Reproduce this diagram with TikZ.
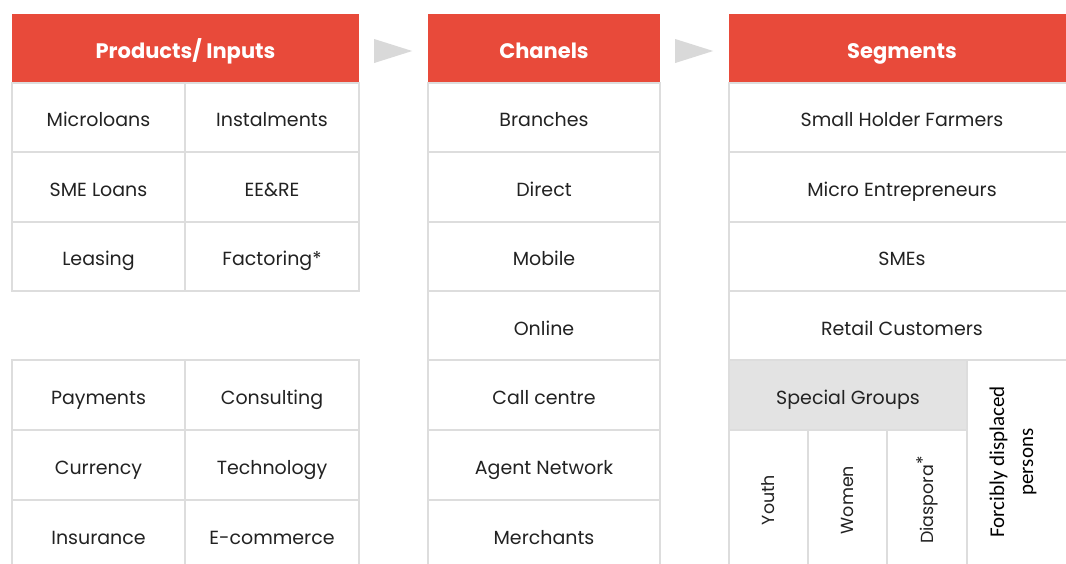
\documentclass[tikz,border=0pt]{standalone}
\usepackage{fontspec}
\usetikzlibrary{calc}
\setmainfont{Poppins}
\newfontfamily\notefont{Carlito}
\definecolor{headred}{HTML}{E84A3A}
\definecolor{gridgray}{HTML}{DDDDDD}
\definecolor{groupgray}{HTML}{E3E3E3}
\definecolor{arrowgray}{HTML}{D9D9D9}
\definecolor{ink}{HTML}{222222}
\begin{document}
\begin{tikzpicture}[x=1pt,y=-1pt,
  cell/.style={draw=gridgray,line width=2.5pt,fill=white,rectangle,inner sep=0pt,
    text=ink,font=\fontsize{19}{22}\selectfont,text height=18.5pt,text depth=0pt},
  head/.style={fill=headred,rectangle,inner sep=0pt,text=white,
    font=\fontsize{21}{24}\selectfont\bfseries,text height=20pt,text depth=0pt},
  vert/.style={rotate=90,text=ink,font=\fontsize{17.5}{20}\selectfont},
  flow/.style={fill=arrowgray}]
\useasboundingbox (0,0) rectangle (1066,563);
\begin{scope}
\clip (0,0) rectangle (1066,563);
% products / inputs
\node[head,minimum width=347pt,minimum height=69pt] (h1) at (185.5,48.5) {Products/ Inputs};
\node[cell,minimum width=173pt,minimum height=69pt] (p1) at (98.5,117.5) {Microloans};
\node[cell,minimum width=174pt,minimum height=69pt] (p2) at (272,117.5) {Instalments};
\node[cell,minimum width=173pt,minimum height=70pt] (p3) at (98.5,187) {SME Loans};
\node[cell,minimum width=174pt,minimum height=70pt] (p4) at (272,187) {EE\&RE};
\node[cell,minimum width=173pt,minimum height=69pt] (p5) at (98.5,256.5) {Leasing};
\node[cell,minimum width=174pt,minimum height=69pt] (p6) at (272,256.5) {Factoring*};
\node[cell,minimum width=173pt,minimum height=70pt] (s1) at (98.5,395) {Payments};
\node[cell,minimum width=174pt,minimum height=70pt] (s2) at (272,395) {Consulting};
\node[cell,minimum width=173pt,minimum height=70pt] (s3) at (98.5,465) {Currency};
\node[cell,minimum width=174pt,minimum height=70pt] (s4) at (272,465) {Technology};
\node[cell,minimum width=173pt,minimum height=70pt] (s5) at (98.5,535) {Insurance};
\node[cell,minimum width=174pt,minimum height=70pt] (s6) at (272,535) {E-commerce};
% channels
\node[head,minimum width=232pt,minimum height=69pt] (h2) at (544,48.5) {Chanels};
\node[cell,minimum width=232pt,minimum height=69pt] (c1) at (544,117.5) {Branches};
\node[cell,minimum width=232pt,minimum height=70pt] (c2) at (544,187) {Direct};
\node[cell,minimum width=232pt,minimum height=69pt] (c3) at (544,256.5) {Mobile};
\node[cell,minimum width=232pt,minimum height=70pt] (c4) at (544,326) {Online};
\node[cell,minimum width=232pt,minimum height=70pt] (c5) at (544,395) {Call centre};
\node[cell,minimum width=232pt,minimum height=70pt] (c6) at (544,465) {Agent Network};
\node[cell,minimum width=232pt,minimum height=70pt] (c7) at (544,535) {Merchants};
% segments
\node[head,minimum width=346pt,minimum height=69pt] (h3) at (902,48.5) {Segments};
\node[cell,minimum width=346pt,minimum height=69pt] (g1) at (902,117.5) {Small Holder Farmers};
\node[cell,minimum width=346pt,minimum height=70pt] (g2) at (902,187) {Micro Entrepreneurs};
\node[cell,minimum width=346pt,minimum height=69pt] (g3) at (902,256.5) {SMEs};
\node[cell,minimum width=346pt,minimum height=70pt] (g4) at (902,326) {Retail Customers};
\node[cell,fill=groupgray,minimum width=238pt,minimum height=70pt] (sg) at (848,395) {Special Groups};
\node[cell,minimum width=79pt,minimum height=140pt] (y1) at (768.5,500) {};
\node[cell,minimum width=79pt,minimum height=140pt] (y2) at (847.5,500) {};
\node[cell,minimum width=80pt,minimum height=140pt] (y3) at (927,500) {};
\node[vert] (t1) at (y1) {Youth};
\node[vert] (t2) at (y2) {Women};
\node[vert] (t3) at (y3) {Diaspora\raisebox{4pt}{*}};
\node[cell,minimum width=108pt,minimum height=210pt] (fd) at (1021,465) {};
\node[rotate=90,text=black,align=center,font=\notefont\fontsize{21}{29}\selectfont] (t4) at (1013,462) {Forcibly displaced\\persons};
\end{scope}
% flow arrows between the headers
\fill[flow] ($(h1.east)+(15,-9.5)$) -- ($(h1.east)+(53,2.5)$) -- ($(h1.east)+(15,14.5)$) -- cycle;
\fill[flow] ($(h2.east)+(15,-9.5)$) -- ($(h2.east)+(53,2.5)$) -- ($(h2.east)+(15,14.5)$) -- cycle;
\end{tikzpicture}
\end{document}
